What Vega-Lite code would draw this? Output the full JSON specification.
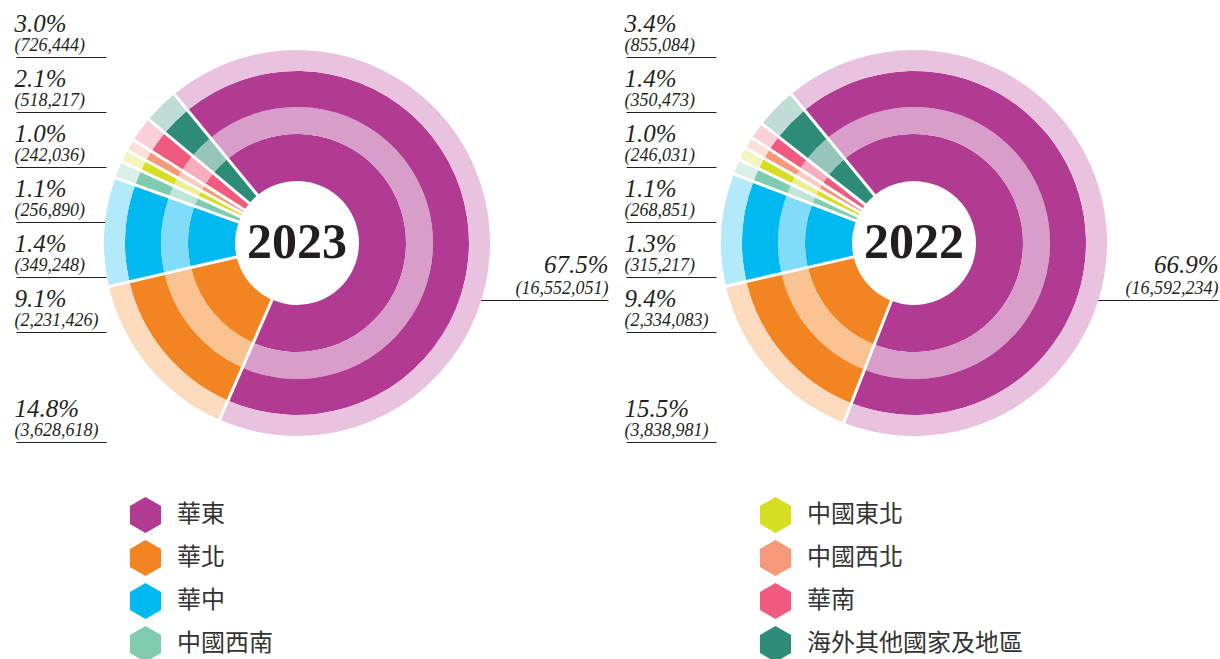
{
  "$schema": "https://vega.github.io/schema/vega-lite/v6.json",
  "padding": 0,
  "width": 1220,
  "height": 486,
  "background": "white",
  "config": {"view": {"stroke": null}},
  "data": {"values": [
    {"year": "2023", "region": "華東", "value": 16552051, "pct": "67.5%", "val": "(16,552,051)", "order": 1},
    {"year": "2023", "region": "華北", "value": 3628618, "pct": "14.8%", "val": "(3,628,618)", "order": 2},
    {"year": "2023", "region": "華中", "value": 2231426, "pct": "9.1%", "val": "(2,231,426)", "order": 3},
    {"year": "2023", "region": "中國西南", "value": 349248, "pct": "1.4%", "val": "(349,248)", "order": 4},
    {"year": "2023", "region": "中國東北", "value": 256890, "pct": "1.1%", "val": "(256,890)", "order": 5},
    {"year": "2023", "region": "中國西北", "value": 242036, "pct": "1.0%", "val": "(242,036)", "order": 6},
    {"year": "2023", "region": "華南", "value": 518217, "pct": "2.1%", "val": "(518,217)", "order": 7},
    {"year": "2023", "region": "海外其他國家及地區", "value": 726444, "pct": "3.0%", "val": "(726,444)", "order": 8},
    {"year": "2022", "region": "華東", "value": 16592234, "pct": "66.9%", "val": "(16,592,234)", "order": 1},
    {"year": "2022", "region": "華北", "value": 3838981, "pct": "15.5%", "val": "(3,838,981)", "order": 2},
    {"year": "2022", "region": "華中", "value": 2334083, "pct": "9.4%", "val": "(2,334,083)", "order": 3},
    {"year": "2022", "region": "中國西南", "value": 315217, "pct": "1.3%", "val": "(315,217)", "order": 4},
    {"year": "2022", "region": "中國東北", "value": 268851, "pct": "1.1%", "val": "(268,851)", "order": 5},
    {"year": "2022", "region": "中國西北", "value": 246031, "pct": "1.0%", "val": "(246,031)", "order": 6},
    {"year": "2022", "region": "華南", "value": 350473, "pct": "1.4%", "val": "(350,473)", "order": 7},
    {"year": "2022", "region": "海外其他國家及地區", "value": 855084, "pct": "3.4%", "val": "(855,084)", "order": 8}
  ]},
  "layer": [
    {
      "transform": [{"filter": "datum.year === '2023'"}],
      "layer": [
        {"mark": {"type": "arc", "innerRadius": 62, "outerRadius": 109, "padAngle": 0.024},
         "encoding": {"color": {"field": "region", "type": "nominal",
           "scale": {"domain": ["華東", "華北", "華中", "中國西南", "中國東北", "中國西北", "華南", "海外其他國家及地區"],
                     "range": ["#B13A93", "#F28522", "#00B9F0", "#7FCBAF", "#D6DE23", "#F6997A", "#F05A7E", "#2E8B78"]},
           "legend": {"orient": "none", "legendX": 127.5, "legendY": 497, "columns": 2, "columnPadding": 484, "rowPadding": 7,
                      "title": null, "padding": 0, "symbolType": "M0,-1L0.866,-0.5L0.866,0.5L0,1L-0.866,0.5L-0.866,-0.5Z",
                      "symbolSize": 1296, "symbolStrokeWidth": 0, "symbolOpacity": 1, "labelFont": "Noto Sans CJK TC",
                      "labelFontSize": 24, "labelColor": "#333333", "labelOffset": 13.5, "labelLimit": 400}}}},
        {"mark": {"type": "arc", "innerRadius": 109, "outerRadius": 136, "padAngle": 0.0172},
         "encoding": {"color": {"field": "region", "type": "nominal", "legend": null,
           "scale": {"domain": ["華東", "華北", "華中", "中國西南", "中國東北", "中國西北", "華南", "海外其他國家及地區"],
                     "range": ["#D89DC9", "#F9C291", "#80DCF8", "#BFE5D7", "#EBEF91", "#FBCCBD", "#F8ADBF", "#97C5BC"]}}}},
        {"mark": {"type": "arc", "innerRadius": 136, "outerRadius": 172, "padAngle": 0.0137},
         "encoding": {"color": {"field": "region", "type": "nominal", "legend": null,
           "scale": {"domain": ["華東", "華北", "華中", "中國西南", "中國東北", "中國西北", "華南", "海外其他國家及地區"],
                     "range": ["#B13A93", "#F28522", "#00B9F0", "#7FCBAF", "#D6DE23", "#F6997A", "#F05A7E", "#2E8B78"]}}}},
        {"mark": {"type": "arc", "innerRadius": 172, "outerRadius": 193, "padAngle": 0.0116},
         "encoding": {"color": {"field": "region", "type": "nominal", "legend": null,
           "scale": {"domain": ["華東", "華北", "華中", "中國西南", "中國東北", "中國西北", "華南", "海外其他國家及地區"],
                     "range": ["#E8C2DE", "#FBDABD", "#B3EAFB", "#D9EFE7", "#F2F5BD", "#FCE0D7", "#FBCED8", "#C0DCD6"]}}}}
      ],
      "encoding": {
        "x": {"field": "year", "type": "nominal", "scale": {"type": "point", "domain": ["2023", "2022"], "range": [297, 914], "padding": 0}, "axis": null},
        "theta": {"field": "value", "type": "quantitative", "stack": true, "scale": {"range": [-0.6894, 5.5938]}},
        "order": {"field": "order", "type": "quantitative"}
      },
      "resolve": {"scale": {"color": "independent"}}
    },
    {
      "transform": [{"filter": "datum.year === '2022'"}],
      "layer": [
        {"mark": {"type": "arc", "innerRadius": 62, "outerRadius": 109, "padAngle": 0.024},
         "encoding": {"color": {"field": "region", "type": "nominal", "legend": null,
           "scale": {"domain": ["華東", "華北", "華中", "中國西南", "中國東北", "中國西北", "華南", "海外其他國家及地區"],
                     "range": ["#B13A93", "#F28522", "#00B9F0", "#7FCBAF", "#D6DE23", "#F6997A", "#F05A7E", "#2E8B78"]}}}},
        {"mark": {"type": "arc", "innerRadius": 109, "outerRadius": 136, "padAngle": 0.0172},
         "encoding": {"color": {"field": "region", "type": "nominal", "legend": null,
           "scale": {"domain": ["華東", "華北", "華中", "中國西南", "中國東北", "中國西北", "華南", "海外其他國家及地區"],
                     "range": ["#D89DC9", "#F9C291", "#80DCF8", "#BFE5D7", "#EBEF91", "#FBCCBD", "#F8ADBF", "#97C5BC"]}}}},
        {"mark": {"type": "arc", "innerRadius": 136, "outerRadius": 172, "padAngle": 0.0137},
         "encoding": {"color": {"field": "region", "type": "nominal", "legend": null,
           "scale": {"domain": ["華東", "華北", "華中", "中國西南", "中國東北", "中國西北", "華南", "海外其他國家及地區"],
                     "range": ["#B13A93", "#F28522", "#00B9F0", "#7FCBAF", "#D6DE23", "#F6997A", "#F05A7E", "#2E8B78"]}}}},
        {"mark": {"type": "arc", "innerRadius": 172, "outerRadius": 193, "padAngle": 0.0116},
         "encoding": {"color": {"field": "region", "type": "nominal", "legend": null,
           "scale": {"domain": ["華東", "華北", "華中", "中國西南", "中國東北", "中國西北", "華南", "海外其他國家及地區"],
                     "range": ["#E8C2DE", "#FBDABD", "#B3EAFB", "#D9EFE7", "#F2F5BD", "#FCE0D7", "#FBCED8", "#C0DCD6"]}}}}
      ],
      "encoding": {
        "x": {"field": "year", "type": "nominal", "axis": null},
        "theta": {"field": "value", "type": "quantitative", "stack": true, "scale": {"range": [-0.6894, 5.5938]}},
        "order": {"field": "order", "type": "quantitative"}
      },
      "resolve": {"scale": {"color": "independent"}}
    },
    {
      "transform": [{"filter": "datum.order === 1"}],
      "mark": {"type": "text", "font": "Liberation Serif", "fontWeight": "bold", "fontSize": 50, "color": "#231F20", "baseline": "middle", "align": "center"},
      "encoding": {
        "x": {"field": "year", "type": "nominal", "axis": null},
        "text": {"field": "year", "type": "nominal"}
      }
    },
    {
      "transform": [{"filter": "datum.year === '2023' && datum.order !== 1"}],
      "mark": {"type": "point", "opacity": 0},
      "encoding": {
        "y": {"field": "pct", "type": "nominal",
          "scale": {"type": "point", "domain": ["3.0%", "2.1%", "1.0%", "1.1%", "1.4%", "9.1%", " ", "14.8%"], "range": [57, 442], "padding": 0},
          "axis": {"orient": "left", "offset": -106, "title": null, "domain": false, "grid": false, "ticks": true, "tickSize": 90, "tickOpacity": 0,
                   "labelAlign": "left", "labelBaseline": "alphabetic", "labelPadding": 2, "labelOffset": -26,
                   "labelFont": "Liberation Serif", "labelFontStyle": "italic", "labelFontSize": 25, "labelColor": "#231F20",
                   "labelLimit": 400, "labelOverlap": false, "labelFlush": false, "labelBound": false}}
      }
    },
    {
      "transform": [{"filter": "datum.year === '2023' && datum.order !== 1"}],
      "mark": {"type": "point", "opacity": 0},
      "encoding": {
        "y": {"field": "val", "type": "nominal",
          "scale": {"type": "point", "domain": ["(726,444)", "(518,217)", "(242,036)", "(256,890)", "(349,248)", "(2,231,426)", " ", "(3,628,618)"], "range": [57, 442], "padding": 0},
          "axis": {"orient": "left", "offset": -106, "title": null, "domain": false, "grid": false, "ticks": true, "tickSize": 90,
                   "tickColor": "#231F20", "tickWidth": 1, "tickOpacity": {"condition": {"test": "datum.value === ' '", "value": 0}, "value": 1},
                   "labelAlign": "left", "labelBaseline": "alphabetic", "labelPadding": 2, "labelOffset": -7,
                   "labelFont": "Liberation Serif", "labelFontStyle": "italic", "labelFontSize": 18, "labelColor": "#231F20",
                   "labelLimit": 400, "labelOverlap": false, "labelFlush": false, "labelBound": false}}
      }
    },
    {
      "transform": [{"filter": "datum.year === '2022' && datum.order !== 1"}],
      "mark": {"type": "point", "opacity": 0},
      "encoding": {
        "y": {"field": "pct", "type": "nominal",
          "scale": {"type": "point", "domain": ["3.4%", "1.4%", "1.0%", "1.1%", "1.3%", "9.4%", " ", "15.5%"], "range": [57, 442], "padding": 0},
          "axis": {"orient": "left", "offset": -716, "title": null, "domain": false, "grid": false, "ticks": true, "tickSize": 90, "tickOpacity": 0,
                   "labelAlign": "left", "labelBaseline": "alphabetic", "labelPadding": 2, "labelOffset": -26,
                   "labelFont": "Liberation Serif", "labelFontStyle": "italic", "labelFontSize": 25, "labelColor": "#231F20",
                   "labelLimit": 400, "labelOverlap": false, "labelFlush": false, "labelBound": false}}
      }
    },
    {
      "transform": [{"filter": "datum.year === '2022' && datum.order !== 1"}],
      "mark": {"type": "point", "opacity": 0},
      "encoding": {
        "y": {"field": "val", "type": "nominal",
          "scale": {"type": "point", "domain": ["(855,084)", "(350,473)", "(246,031)", "(268,851)", "(315,217)", "(2,334,083)", " ", "(3,838,981)"], "range": [57, 442], "padding": 0},
          "axis": {"orient": "left", "offset": -716, "title": null, "domain": false, "grid": false, "ticks": true, "tickSize": 90,
                   "tickColor": "#231F20", "tickWidth": 1, "tickOpacity": {"condition": {"test": "datum.value === ' '", "value": 0}, "value": 1},
                   "labelAlign": "left", "labelBaseline": "alphabetic", "labelPadding": 2, "labelOffset": -7,
                   "labelFont": "Liberation Serif", "labelFontStyle": "italic", "labelFontSize": 18, "labelColor": "#231F20",
                   "labelLimit": 400, "labelOverlap": false, "labelFlush": false, "labelBound": false}}
      }
    },
    {
      "transform": [{"filter": "datum.year === '2023' && datum.order === 1"}],
      "mark": {"type": "point", "opacity": 0},
      "encoding": {
        "y": {"field": "pct", "type": "nominal", "scale": {"type": "point"},
          "axis": {"orient": "right", "offset": -766, "title": null, "domain": false, "grid": false, "ticks": true, "tickSize": 154, "tickOpacity": 0, "tickOffset": 57,
                   "labelAlign": "right", "labelBaseline": "alphabetic", "labelPadding": 0, "labelOffset": -28,
                   "labelFont": "Liberation Serif", "labelFontStyle": "italic", "labelFontSize": 25, "labelColor": "#231F20",
                   "labelLimit": 400, "labelOverlap": false, "labelFlush": false, "labelBound": false}}
      }
    },
    {
      "transform": [{"filter": "datum.year === '2023' && datum.order === 1"}],
      "mark": {"type": "point", "opacity": 0},
      "encoding": {
        "y": {"field": "val", "type": "nominal", "scale": {"type": "point"},
          "axis": {"orient": "right", "offset": -766, "title": null, "domain": false, "grid": false, "ticks": true, "tickSize": 154, "tickColor": "#231F20", "tickWidth": 1, "tickOffset": 57,
                   "labelAlign": "right", "labelBaseline": "alphabetic", "labelPadding": 0, "labelOffset": -7,
                   "labelFont": "Liberation Serif", "labelFontStyle": "italic", "labelFontSize": 18, "labelColor": "#231F20",
                   "labelLimit": 400, "labelOverlap": false, "labelFlush": false, "labelBound": false}}
      }
    },
    {
      "transform": [{"filter": "datum.year === '2022' && datum.order === 1"}],
      "mark": {"type": "point", "opacity": 0},
      "encoding": {
        "y": {"field": "pct", "type": "nominal", "scale": {"type": "point"},
          "axis": {"orient": "right", "offset": -156, "title": null, "domain": false, "grid": false, "ticks": true, "tickSize": 154, "tickOpacity": 0, "tickOffset": 57,
                   "labelAlign": "right", "labelBaseline": "alphabetic", "labelPadding": 0, "labelOffset": -28,
                   "labelFont": "Liberation Serif", "labelFontStyle": "italic", "labelFontSize": 25, "labelColor": "#231F20",
                   "labelLimit": 400, "labelOverlap": false, "labelFlush": false, "labelBound": false}}
      }
    },
    {
      "transform": [{"filter": "datum.year === '2022' && datum.order === 1"}],
      "mark": {"type": "point", "opacity": 0},
      "encoding": {
        "y": {"field": "val", "type": "nominal", "scale": {"type": "point"},
          "axis": {"orient": "right", "offset": -156, "title": null, "domain": false, "grid": false, "ticks": true, "tickSize": 154, "tickColor": "#231F20", "tickWidth": 1, "tickOffset": 57,
                   "labelAlign": "right", "labelBaseline": "alphabetic", "labelPadding": 0, "labelOffset": -7,
                   "labelFont": "Liberation Serif", "labelFontStyle": "italic", "labelFontSize": 18, "labelColor": "#231F20",
                   "labelLimit": 400, "labelOverlap": false, "labelFlush": false, "labelBound": false}}
      }
    }
  ],
  "resolve": {"scale": {"theta": "independent", "y": "independent", "color": "independent"}, "axis": {"y": "independent"}}
}
